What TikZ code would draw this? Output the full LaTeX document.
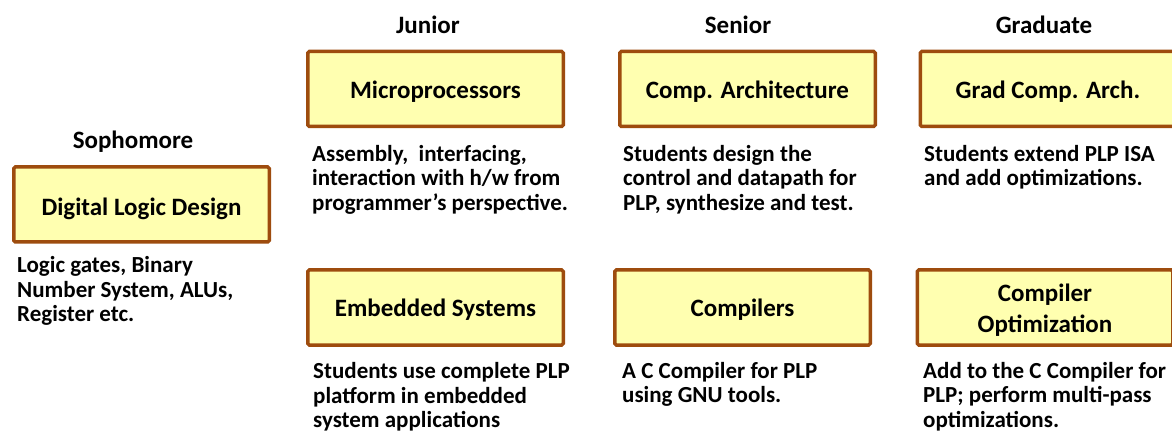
\documentclass[tikz,border=0pt]{standalone}
\usepackage{fontspec}
\setmainfont{Carlito}
\definecolor{boxfill}{HTML}{FFFFB0}
\definecolor{boxline}{HTML}{9E4C0E}
\tikzset{
  course/.style={draw=boxline, fill=boxfill, line width=3.5pt, rounded corners=1.5pt,
    minimum width=255.5pt, minimum height=75pt, inner sep=0pt},
  title/.style={inner sep=0pt, align=center, font=\fontsize{25}{31}\selectfont\bfseries},
  level/.style={inner sep=0pt, anchor=base, font=\fontsize{25}{30}\selectfont\bfseries},
  % anchored at the baseline of the last line
  note/.style={inner sep=0pt, anchor=base west, align=left,
    font=\fontsize{23}{24.5}\selectfont\bfseries},
}
\begin{document}
\begin{tikzpicture}[x=1pt, y={(0pt,-1pt)}]
\clip (0,0) rectangle (1172,438);
\fill[white] (0,0) rectangle (1172,438);

% year headings
\node[level] (soph) at (133,148.5) {Sophomore};
\node[level] (jun)  at (428,33.5) {Junior};
\node[level] (sen)  at (738,33.5) {Senior};
\node[level] (grad) at (1044,33.5) {Graduate};

% course boxes
\node[course] (dld)   at (141.5,204.5) {};
\node[course] (micro) at (435.5,89)    {};
\node[course] (arch)  at (747.5,89)    {};
\node[course] (garch) at (1048,89)     {};
\node[course] (emb)   at (435.5,307.5) {};
\node[course] (comp)  at (742.5,307.5) {};
\node[course] (copt)  at (1045,307.5)  {};

% course titles
\node[title] (dldt)   at ([yshift=-4pt]dld.center)     {Digital Logic Design};
\node[title] (microt) at ([yshift=-2.5pt]micro.center) {Microprocessors};
\node[title] (archt)  at ([yshift=-2.5pt]arch.center)  {Comp. Architecture};
\node[title] (garcht) at ([yshift=-2.5pt]garch.center) {Grad Comp. Arch.};
\node[title] (embt)   at ([yshift=-2.5pt]emb.center)   {Embedded Systems};
\node[title] (compt)  at ([yshift=-2.5pt]comp.center)  {Compilers};
\node[title] (coptt)  at ([yshift=-3pt]copt.center)    {Compiler\\Optimization};

% course descriptions
\node[note] (dldtxt)   at (17,321.5)  {Logic gates, Binary\\Number System, ALUs,\\Register etc.};
\node[note] (microtxt) at (312,210.5) {Assembly,\ \ interfacing,\\interaction with h/w from\\programmer’s perspective.};
\node[note] (archtxt)  at (623,210.5) {Students design the\\control and datapath for\\PLP, synthesize and test.};
\node[note] (garchtxt) at (924,186) {Students extend PLP ISA\\and add optimizations.};
\node[note] (embtxt)   at (313,427.5) {Students use complete PLP\\platform in embedded\\system applications};
\node[note] (comptxt)  at (622,402.5) {A C Compiler for PLP\\using GNU tools.};
\node[note] (copttxt)  at (923,427) {Add to the C Compiler for\\PLP; perform multi-pass\\optimizations.};
\end{tikzpicture}
\end{document}
